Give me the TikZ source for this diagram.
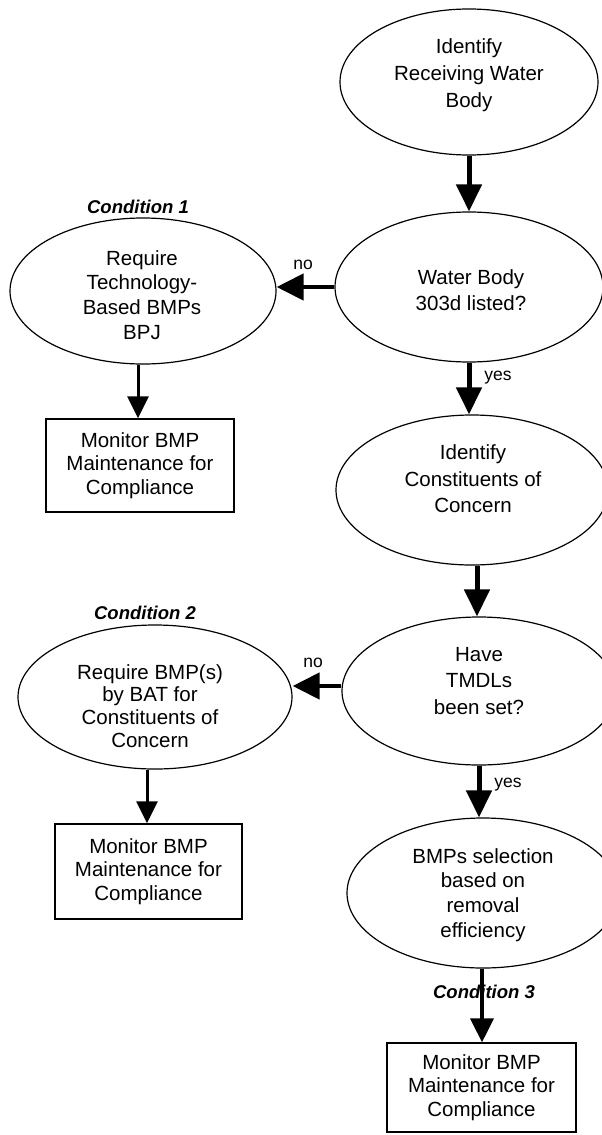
\documentclass[tikz,border=0pt]{standalone}
\usepackage{fontspec}
\setmainfont{Liberation Sans}
\usetikzlibrary{shapes.geometric,arrows.meta}
\begin{document}
\begin{tikzpicture}[x=1pt,y=-1pt,
  oval/.style={ellipse, draw, line width=1.2pt, inner sep=0pt},
  txt/.style={align=center, font=\fontsize{20.5}{#1}\selectfont, inner sep=0pt},
  txt/.default=25,
  boxnode/.style={draw, line width=1.3pt, inner sep=0pt, align=center, font=\fontsize{20.5}{23.5}\selectfont},
  cond/.style={font=\fontsize{18.5}{22}\selectfont\bfseries\itshape, inner sep=0pt},
  lab/.style={font=\fontsize{17.5}{20}\selectfont, inner sep=0pt},
  bigarrow/.style={line width=5pt, -{Triangle[length=27pt,width=25pt]}},
  noarrow/.style={line width=4.5pt, -{Triangle[length=27pt,width=26pt]}},
  smallarrow/.style={line width=3pt, -{Triangle[length=22pt,width=21pt]}}
]
\useasboundingbox (0,0) rectangle (602,1135);
\fill[white] (0,0) rectangle (602,1135);
\clip (0,0) rectangle (602,1135);

% right column ellipses
\node[oval, minimum width=258pt, minimum height=146pt] (e1) at (469,82) {};
\node[txt=27] (e1t) at (469,75) {Identify\\Receiving Water\\Body};

\node[oval, minimum width=268pt, minimum height=150pt] (e2) at (469,287) {};
\node[txt=26] (e2t) at (471,290) {Water Body\\303d listed?};

\node[oval, minimum width=272pt, minimum height=150pt] (e3) at (472,490) {};
\node[txt=26.5] (e3t) at (473,479) {Identify\\Constituents of\\Concern};

\node[oval, minimum width=274pt, minimum height=148pt] (e4) at (479,691) {};
\node[txt=26.5] (e4t) at (479,681) {Have\\TMDLs\\been set?};

\node[oval, minimum width=272pt, minimum height=150pt] (e5) at (483,893) {};
\node[txt=24.7] (e5t) at (483,895) {BMPs selection\\based on\\removal\\efficiency};

% left column ellipses
\node[oval, minimum width=266pt, minimum height=146pt] (l1) at (143,291) {};
\node[txt=24.7] (l1t) at (142,295) {Require\\Technology-\\Based BMPs\\BPJ};

\node[oval, minimum width=274pt, minimum height=144pt] (l2) at (155,697) {};
\node[txt=22.7] (l2t) at (150,706) {Require BMP(s)\\by BAT for\\Constituents of\\Concern};

% boxes
\node[boxnode, minimum width=188pt, minimum height=93pt] (b1) at (140,465.5) {Monitor BMP\\Maintenance for\\Compliance};
\node[boxnode, minimum width=187pt, minimum height=95pt] (b2) at (148.5,871.5) {Monitor BMP\\Maintenance for\\Compliance};
\node[boxnode, minimum width=189pt, minimum height=89pt] (b3) at (481.5,1087.5) {Monitor BMP\\Maintenance for\\Compliance};

% labels
\node[cond] (c1) at (138,207) {Condition 1};
\node[cond] (c2) at (145,613) {Condition 2};
\node[cond] (c3) at (484,992) {Condition 3};
\node[lab] (no1) at (303,265) {no};
\node[lab] (no2) at (313,663) {no};
\node[lab] (yes1) at (498,378) {yes};
\node[lab] (yes2) at (508,785) {yes};

% connectors
\draw[bigarrow] (e1.south) -- (e1.south |- e2.north);
\draw[noarrow] (e2.west) -- (e2.west -| l1.east);
\draw[bigarrow] (e2.south) -- (e2.south |- e3.north);
\draw[smallarrow] ([xshift=-5pt]l1.south) -- ([xshift=-5pt]l1.south |- b1.north);
\draw[bigarrow] ([xshift=5pt]e3.south) -- ([xshift=5pt]e3.south |- e4.north);
\draw[noarrow] ([yshift=5pt]e4.west) -- ([yshift=5pt]e4.west -| l2.east);
\draw[smallarrow] ([xshift=-8pt]l2.south) -- ([xshift=-8pt]l2.south |- b2.north);
\draw[bigarrow] (e4.south) -- (e4.south |- e5.north);
\draw[line width=3.5pt, -{Triangle[length=24pt,width=23pt]}] ([xshift=-1pt]e5.south) -- ([xshift=-1pt]e5.south |- b3.north);
\end{tikzpicture}
\end{document}
